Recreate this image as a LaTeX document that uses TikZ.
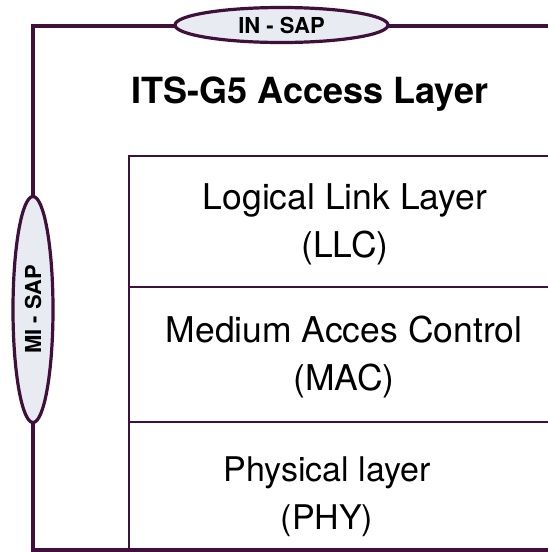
\documentclass[tikz,border=0pt]{standalone}
\usepackage{fontspec}
\setmainfont{TeX Gyre Heros}
\usetikzlibrary{shapes.geometric}

\definecolor{frameplum}{RGB}{62,16,58}
\definecolor{sapfill}{RGB}{232,235,242}

\tikzset{
  frameline/.style={draw=frameplum, line width=3.4pt},
  layerbox/.style={draw=frameplum, line width=2pt, rectangle, inner sep=0pt,
                   minimum width=434pt, anchor=north west},
  sapnode/.style={ellipse, draw=frameplum, line width=3.2pt, fill=sapfill,
                  inner sep=0pt, font=\fontsize{22}{24}\selectfont\bfseries},
  % base anchor sits on the baseline of the second line
  layertext/.style={align=center, anchor=base,
                    font=\fontsize{35.5}{48}\selectfont},
}

\begin{document}
\begin{tikzpicture}[x=1pt, y=-1pt]
  \useasboundingbox (0,0) rectangle (548,552);
  \clip (0,0) rectangle (548,552);

  % corners of the outer access-layer frame (right side runs off the page)
  \coordinate (tl) at (33,26);
  \coordinate (bl) at (33,550);
  \coordinate (tr) at (600,26);
  \coordinate (br) at (600,550);

  % outer frame
  \draw[frameline] (tr) -- (tl) -- (bl) -- (br);

  % protocol layers
  \node[layerbox, minimum height=131pt] (llc) at (128,155) {};
  \node[layerbox, minimum height=135pt] (mac) at (128,286) {};
  \node[layerbox, minimum height=129pt] (phy) at (128,421) {};

  % service access points on the frame
  \node[sapnode, minimum width=213pt, minimum height=35pt] (insap) at (281.5,25) {IN - SAP};
  \node[sapnode, rotate=90, minimum width=226pt, minimum height=40pt] (misap) at (33,309.5) {MI - SAP};

  % title
  \node[anchor=base, font=\fontsize{36}{40}\selectfont\bfseries] (title) at (310,103) {ITS-G5 Access Layer};

  % layer labels
  \node[layertext] (llctext) at (345,257) {Logical Link Layer\\(LLC)};
  \node[layertext] (mactext) at (344,390) {Medium Acces Control\\(MAC)};
  \node[layertext, font=\fontsize{34}{48}\selectfont] (phytext) at (327,529) {Physical layer\\(PHY)};
\end{tikzpicture}
\end{document}
